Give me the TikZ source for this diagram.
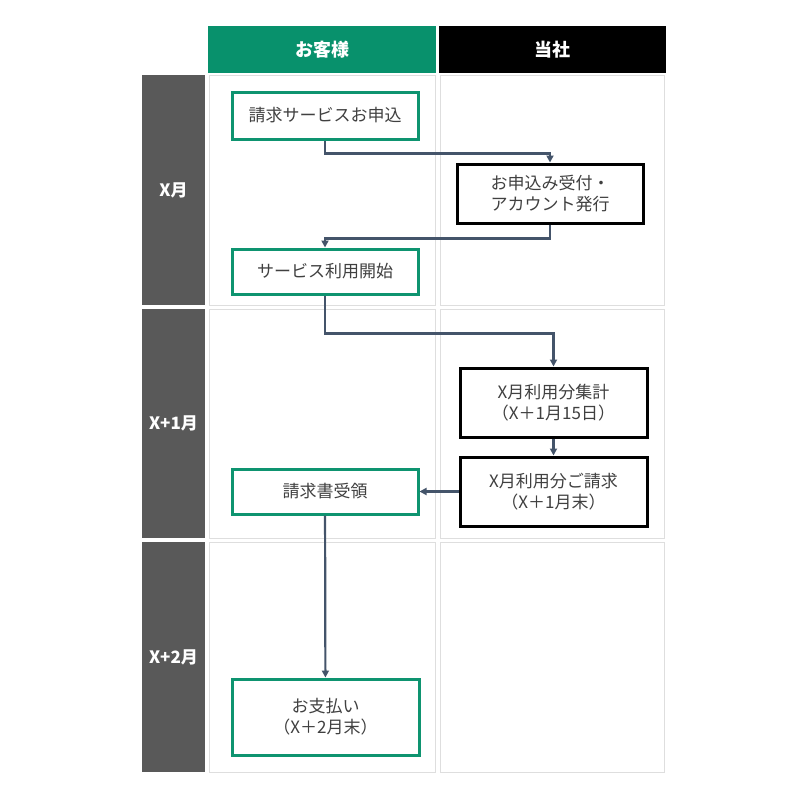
\documentclass[tikz,border=0pt]{standalone}
\usepackage{fontspec}
\setmainfont{Noto Sans CJK JP}
\usepackage{xcolor}
\usetikzlibrary{arrows.meta,positioning,calc}
\definecolor{custgreen}{RGB}{8,145,108}
\definecolor{boxgreen}{RGB}{14,148,112}
\definecolor{bargrey}{RGB}{89,89,89}
\definecolor{cellgrey}{RGB}{222,222,222}
\definecolor{txtgrey}{RGB}{64,64,64}
\definecolor{flowblue}{RGB}{68,84,106}

\begin{document}
\begin{tikzpicture}[
  x=1pt, y=-1pt,
  font=\fontsize{17}{21}\selectfont,
  hdr/.style={minimum height=47pt, inner sep=0pt, text=white,
    font=\fontsize{18}{22}\selectfont\bfseries},
  month/.style={fill=bargrey, minimum width=63pt, inner sep=0pt, text=white,
    font=\fontsize{17}{21}\selectfont\bfseries},
  cell/.style={draw=cellgrey, line width=1pt, fill=white, inner sep=0pt},
  box/.style={line width=3pt, fill=white, align=center, text=txtgrey,
    minimum width=186pt, inner sep=2pt},
  cbox/.style={box, draw=boxgreen},
  sbox/.style={box, draw=black},
  ar/.style={-{Triangle[length=7pt, width=7pt]}, draw=flowblue, line width=2.2pt}
]
\useasboundingbox (0,0) rectangle (800,800);
% ---- lanes ------------------------------------------------------------------
\node[hdr, fill=custgreen, minimum width=228pt] (hcust) at (322, 49.5) {お客様};
\node[hdr, fill=black, minimum width=227pt] (hus) at (552.5, 49.5) {当社};

\node[month, minimum height=230pt] (mx) at (173.5, 190) {X月};
\node[month, minimum height=229pt] (mx1) at (173.5, 423.5) {X+1月};
\node[month, minimum height=230pt] (mx2) at (173.5, 657) {X+2月};

\node[cell, minimum width=226pt, minimum height=230pt] (c11) at (322, 190) {};
\node[cell, minimum width=224pt, minimum height=230pt] (c12) at (552, 190) {};
\node[cell, minimum width=226pt, minimum height=229pt] (c21) at (322, 423.5) {};
\node[cell, minimum width=224pt, minimum height=229pt] (c22) at (552, 423.5) {};
\node[cell, minimum width=226pt, minimum height=230pt] (c31) at (322, 657) {};
\node[cell, minimum width=224pt, minimum height=230pt] (c32) at (552, 657) {};

% ---- nodes ------------------------------------------------------------------
\node[cbox, minimum height=47pt] (apply) at (325, 115.5) {請求サービスお申込};
\node[sbox, minimum height=59pt] (accept) at (550, 193.5)
  {お申込み受付・\\アカウント発行};
\node[cbox, minimum height=45pt] (start) at (325, 271.5) {サービス利用開始};

\node[sbox, minimum width=187pt, minimum height=69pt] (tally) at (553.5, 402.5)
  {X月利用分集計\\（X＋1月15日）};
\node[sbox, minimum width=187pt, minimum height=69pt] (invoice) at (553.5, 491.5)
  {X月利用分ご請求\\（X＋1月末）};
\node[cbox, minimum height=45pt] (receive) at (325, 491.5) {請求書受領};

\node[cbox, minimum width=187pt, minimum height=76pt] (pay) at (325.5, 717)
  {お支払い\\（X＋2月末）};

% ---- edges ------------------------------------------------------------------
\draw[ar] (apply.south) -- ++(0,13) -| (accept.north);
\draw[ar] (accept.south) -- ++(0,14) -| (start.north);
\draw[ar] (start.south) -- ++(0,38) -| (tally.north);
\draw[ar] (tally) -- (invoice);
\draw[ar] (invoice) -- (receive);
\draw[ar] (receive) -- (pay);
\end{tikzpicture}
\end{document}
